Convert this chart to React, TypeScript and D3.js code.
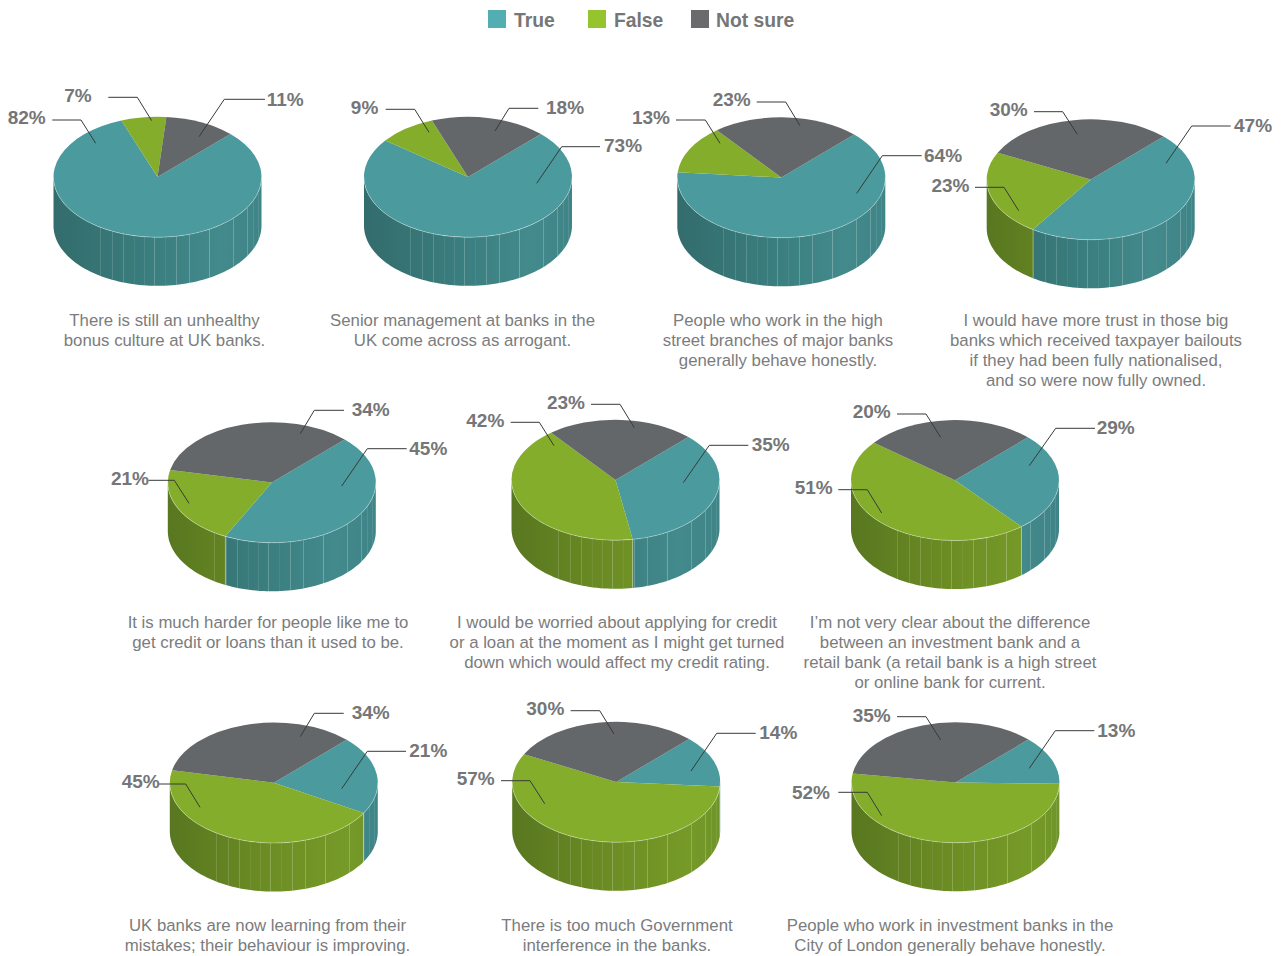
import React from "react";
import * as d3 from "d3";

// ---- data ----
const seriesNames = ["True", "False", "Not sure"];
const trueValues = [82, 73, 64, 47, 45, 35, 29, 21, 14, 13];
const falseValues = [7, 9, 13, 23, 21, 42, 51, 45, 57, 52];
const notSureValues = [11, 18, 23, 30, 34, 23, 20, 34, 30, 35];
// The seventh pie is labelled 20% but its slice is drawn at 29.
const notSureDrawnValues = [11, 18, 23, 30, 34, 23, 29, 34, 30, 35];
const captions = [
  ["There is still an unhealthy", "bonus culture at UK banks."],
  ["Senior management at banks in the", "UK come across as arrogant."],
  ["People who work in the high", "street branches of major banks", "generally behave honestly."],
  ["I would have more trust in those big", "banks which received taxpayer bailouts", "if they had been fully nationalised,", "and so were now fully owned."],
  ["It is much harder for people like me to", "get credit or loans than it used to be."],
  ["I would be worried about applying for credit", "or a loan at the moment as I might get turned", "down which would affect my credit rating."],
  ["I’m not very clear about the difference", "between an investment bank and a", "retail bank (a retail bank is a high street", "or online bank for current."],
  ["UK banks are now learning from their", "mistakes; their behaviour is improving."],
  ["There is too much Government", "interference in the banks."],
  ["People who work in investment banks in the", "City of London generally behave honestly."],
];

// ---- layout ----
const pieCentres = [
  [157.5, 177], [468, 177], [781.3, 177.5], [1090.7, 179.5],
  [271.8, 482.5], [615.5, 480], [955, 480.3],
  [273.8, 782.8], [616.2, 782], [955.5, 782.5],
];
const captionX = [164.5, 462.5, 778, 1096, 268, 617, 950, 267.5, 617, 950];
const captionY = [326, 326, 326, 326, 628, 628, 628, 931, 931, 931];

// per pie, per series: textX, baseline, lineStartX, elbowX, elbowY, endX, endY
const leaders = [
  [[45.7, 124, 52.3, 81, 120, 95.7, 143.3], [91.7, 102, 108.3, 137.3, 97.3, 151.7, 120.7], [266.7, 105.5, 265, 224.3, 99.3, 199, 136.7]],
  [[604, 152.3, 600, 561.7, 146.7, 536.7, 183.3], [378.3, 114, 385.7, 414.7, 109.3, 429, 132.3], [546, 114, 538.3, 509, 108.3, 495, 131]],
  [[924, 162.3, 921.7, 882.3, 155.7, 856.7, 193.3], [670, 124.3, 676, 705.3, 120, 720, 143.3], [750.7, 106.3, 756.7, 785.7, 102, 800, 125.7]],
  [[1234, 131.7, 1230.7, 1191.7, 126, 1166, 163.3], [969.5, 192, 975, 1004, 187.3, 1018.7, 210.7], [1027.7, 116, 1034, 1062.7, 111.7, 1077.3, 134.3]],
  [[409.3, 455, 406.7, 367.3, 448.7, 341.7, 486], [149, 485, 148.3, 174.3, 480.3, 189, 503.3], [351.7, 416, 344, 314.3, 410.3, 300.3, 433.7]],
  [[751.7, 451, 748.3, 709.3, 445.3, 683.3, 482.7], [504.3, 426.7, 510.7, 539.3, 422.3, 554, 445.7], [585, 408.7, 591, 620, 404.3, 634.3, 427.7]],
  [[1096.7, 434, 1095, 1055.7, 428.3, 1029.3, 465.7], [832.7, 494.3, 838.3, 867.3, 489.7, 881.7, 513], [890.7, 418.3, 897, 926, 414, 940.7, 437.3]],
  [[409.3, 757.3, 406, 367.3, 751.3, 341.7, 788.7], [159.7, 788, 158.3, 185.7, 784, 200, 807.3], [351.7, 719, 343.7, 314.3, 713.3, 300.3, 736.7]],
  [[759.3, 739, 755.7, 716.7, 733.3, 691, 771], [494.7, 785, 501, 530, 780.7, 544.7, 803.7], [564.3, 715.3, 570.7, 599.7, 710.7, 614, 734]],
  [[1097.3, 736.7, 1094.3, 1055.3, 730.7, 1029.3, 768.3], [830, 798.7, 838.3, 867.3, 792.3, 881.7, 815.7], [890.7, 721.7, 897, 926, 716.7, 940.7, 740]],
];

const RX = 104;
const RY = 60.2;
const DEPTH = 48.6;
const START_DEG = 44.5;
const ribOffsets = [-58, -46, -35, -24, -14, -4, 7, 18, 31, 51, 75, 89, 95, 100];
const ribAlpha = [0.14, 0.14, 0.18, 0.07, 0.1, 0.22, 0.07, 0.22, 0.22, 0.26, 0.22, 0.22, 0.1, 0.1];

const topColour = d3.scaleOrdinal<number, string>().domain([0, 1, 2]).range(["#4a9a9e", "#85ad2c", "#636769"]);
const legendColour = d3.scaleOrdinal<number, string>().domain([0, 1, 2]).range(["#52aeb0", "#95c42e", "#6b6b6d"]);
const sideStops = [
  [["0", "#336c6c"], ["0.5", "#3b7f80"], ["0.8", "#438a8c"], ["1", "#3f8487"]],
  [["0", "#587720"], ["0.5", "#6d8e24"], ["0.85", "#769a28"], ["1", "#6f9428"]],
  [["0", "#555"], ["1", "#555"]],
];

const legendSquareX = [488, 588, 691];
const legendTextX = [514, 614, 716];

const labelFont = "'Liberation Sans', Arial, sans-serif";
const textGrey = "#757677";

const rad = (d: number) => (d * Math.PI) / 180;
const pieGen = d3
  .pie<number>()
  .sort(null)
  .startAngle(rad(START_DEG))
  .endAngle(rad(START_DEG + 360));
const arcGen = d3.arc<d3.PieArcDatum<number>>().innerRadius(0).outerRadius(RX);

function ellipsePoint(cx: number, cy: number, a: number): [number, number] {
  return [cx + RX * Math.sin(a), cy - RY * Math.cos(a)];
}

function sidePath(cx: number, cy: number, a0: number, a1: number): string {
  const n = Math.max(2, Math.ceil((a1 - a0) / rad(2)));
  const t = d3.scaleLinear().domain([0, n]).range([a0, a1]);
  const upper = d3.range(n + 1).map((i) => ellipsePoint(cx, cy, t(i)));
  const lower = upper.slice().reverse().map(([x, y]) => [x, y + DEPTH] as [number, number]);
  return (d3.line()([...upper, ...lower]) as string) + "Z";
}

function Pie({ index }: { index: number }) {
  const [cx, cy] = pieCentres[index];
  const labels = [trueValues[index], falseValues[index], notSureValues[index]];
  const drawn = [trueValues[index], falseValues[index], notSureDrawnValues[index]];
  const arcs = pieGen(drawn);
  const front0 = rad(90);
  const front1 = rad(270);
  const sides = arcs
    .map((a, s) => ({ s, a0: Math.max(a.startAngle, front0), a1: Math.min(a.endAngle, front1) }))
    .filter((d) => d.a1 > d.a0);
  const frontArc = d3.range(0, 91).map((i) => ellipsePoint(cx, cy, front0 + (i / 90) * Math.PI));
  const seams = sides.slice(1).map((d) => d.a0);

  return (
    <g>
      <defs>
        {sides.map((d) => (
          <linearGradient
            key={d.s}
            id={`side-${index}-${d.s}`}
            gradientUnits="userSpaceOnUse"
            x1={cx - RX}
            x2={cx + RX}
            y1={0}
            y2={0}
          >
            {sideStops[d.s].map(([o, c]) => (
              <stop key={o} offset={o} stopColor={c} />
            ))}
          </linearGradient>
        ))}
      </defs>
      {sides.map((d) => (
        <path key={d.s} d={sidePath(cx, cy, d.a0, d.a1)} fill={`url(#side-${index}-${d.s})`} />
      ))}
      {ribOffsets.map((dx, i) => {
        const x = Math.round(cx + dx) + 0.5;
        const y = cy + RY * Math.sqrt(1 - (dx / RX) ** 2);
        return <line key={dx} x1={x} x2={x} y1={y} y2={y + DEPTH} stroke="#fff" strokeOpacity={ribAlpha[i]} strokeWidth={1} />;
      })}
      {seams.map((a) => {
        const [x, y] = ellipsePoint(cx, cy, a);
        return <line key={a} x1={x} x2={x} y1={y} y2={y + DEPTH} stroke="#fff" strokeOpacity={0.3} strokeWidth={1} />;
      })}
      <g transform={`translate(${cx},${cy}) scale(1,${RY / RX})`}>
        {arcs.map((a, s) => (
          <path key={s} d={arcGen(a) as string} fill={topColour(s)} />
        ))}
      </g>
      <path d={d3.line()(frontArc) as string} fill="none" stroke="#fff" strokeOpacity={0.3} strokeWidth={1} />
      {leaders[index].map(([tx, ty, sx, ex, ey, px, py], s) => (
        <g key={s}>
          <polyline points={`${sx},${ey} ${ex},${ey} ${px},${py}`} fill="none" stroke="#383a3a" strokeWidth={1} />
          <text
            x={tx}
            y={ty}
            textAnchor={ex > sx ? "end" : "start"}
            fontFamily={labelFont}
            fontWeight={700}
            fontSize={19}
            fill={textGrey}
          >
            {labels[s]}%
          </text>
        </g>
      ))}
      <text fontFamily={labelFont} fontSize={16.8} fill="#7b7c7d" textAnchor="middle">
        {captions[index].map((line, i) => (
          <tspan key={i} x={captionX[index]} y={captionY[index] + i * 20.1}>
            {line}
          </tspan>
        ))}
      </text>
    </g>
  );
}

export default function App() {
  return (
    <svg
      width={1281}
      height={956}
      viewBox="0 0 1281 956"
      style={{ position: "absolute", left: 0, top: 0, display: "block", background: "#fff" }}
    >
      {seriesNames.map((name, s) => (
        <g key={name}>
          <rect x={legendSquareX[s]} y={10} width={18} height={18} fill={legendColour(s)} />
          <text x={legendTextX[s]} y={26.7} fontFamily={labelFont} fontWeight={700} fontSize={19.3} fill={textGrey}>
            {name}
          </text>
        </g>
      ))}
      {pieCentres.map((_, i) => (
        <Pie key={i} index={i} />
      ))}
    </svg>
  );
}
